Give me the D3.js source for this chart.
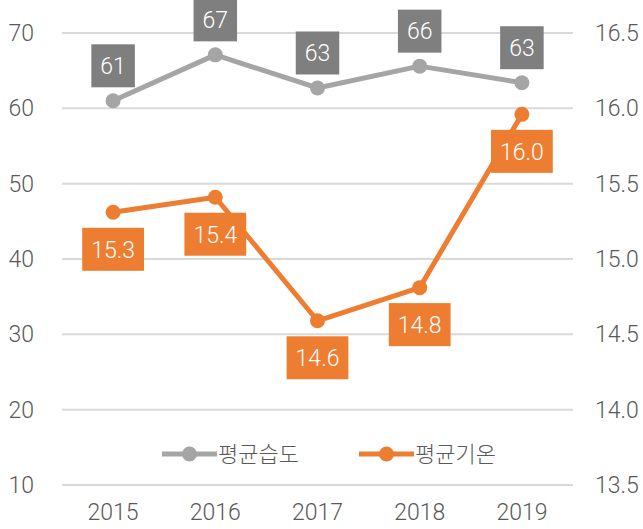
<!DOCTYPE html>
<html>
<head>
<meta charset="utf-8">
<script src="https://cdn.jsdelivr.net/npm/d3@7"></script>
<style>
  body { margin: 0; background: #fff; }
  text { font-family: Roboto, "Noto Sans CJK KR", sans-serif; font-weight: 300; }
</style>
</head>
<body>
<div id="chart"></div>
<script>
// datos del gráfico
var anios = ["2015", "2016", "2017", "2018", "2019"];
var humedad = [61.0, 67.1, 62.7, 65.6, 63.4];        // 평균습도
var temperatura = [15.31, 15.41, 14.59, 14.81, 15.96]; // 평균기온
var ticksIzq = [10, 20, 30, 40, 50, 60, 70];
var ticksDer = [13.5, 14.0, 14.5, 15.0, 15.5, 16.0, 16.5];
var series = ["평균습도", "평균기온"];

var width = 643, height = 529;
var margin = {top: 33, right: 70, bottom: 44, left: 62};

var svg = d3.select("#chart").append("svg")
  .attr("width", width)
  .attr("height", height);

var x = d3.scalePoint()
  .domain(anios)
  .range([margin.left, width - margin.right])
  .padding(0.5);

var yIzq = d3.scaleLinear().domain([10, 70]).range([height - margin.bottom, margin.top]);
var yDer = d3.scaleLinear().domain([13.5, 16.5]).range([height - margin.bottom, margin.top]);

var colores = {gris: "#a5a5a5", naranja: "#ed7d31", caja: "#7f7f7f", texto: "#595959"};

// líneas de la cuadrícula
svg.append("g")
  .selectAll("line")
  .data(ticksIzq)
  .enter().append("line")
  .attr("x1", margin.left)
  .attr("x2", width - margin.right)
  .attr("y1", function(d) { return yIzq(d); })
  .attr("y2", function(d) { return yIzq(d); })
  .attr("stroke", "#d9d9d9")
  .attr("stroke-width", 2);

// eje izquierdo
svg.append("g")
  .selectAll("text")
  .data(ticksIzq)
  .enter().append("text")
  .attr("x", 34)
  .attr("y", function(d) { return yIzq(d); })
  .attr("dy", "0.35em")
  .attr("text-anchor", "end")
  .attr("font-size", 23)
  .attr("fill", colores.texto)
  .text(function(d) { return d; });

// eje derecho
svg.append("g")
  .selectAll("text")
  .data(ticksDer)
  .enter().append("text")
  .attr("x", 595)
  .attr("y", function(d) { return yDer(d); })
  .attr("dy", "0.35em")
  .attr("text-anchor", "start")
  .attr("font-size", 23)
  .attr("fill", colores.texto)
  .text(function(d) { return d.toFixed(1); });

// eje x
svg.append("g")
  .selectAll("text")
  .data(anios)
  .enter().append("text")
  .attr("x", function(d) { return x(d); })
  .attr("y", 520)
  .attr("text-anchor", "middle")
  .attr("font-size", 23)
  .attr("fill", colores.texto)
  .text(function(d) { return d; });

function serie(valores, escala, color, grosor) {
  var g = svg.append("g");
  var linea = d3.line()
    .x(function(d, i) { return x(anios[i]); })
    .y(function(d) { return escala(d); });
  g.append("path")
    .datum(valores)
    .attr("d", linea)
    .attr("fill", "none")
    .attr("stroke", color)
    .attr("stroke-width", grosor)
    .attr("stroke-linejoin", "round");
  g.selectAll("circle")
    .data(valores)
    .enter().append("circle")
    .attr("cx", function(d, i) { return x(anios[i]); })
    .attr("cy", function(d) { return escala(d); })
    .attr("r", 7.5)
    .attr("fill", color);
}

serie(humedad, yIzq, colores.gris, 5);
serie(temperatura, yDer, colores.naranja, 5);

// etiquetas con caja
function etiquetas(valores, escala, color, desplaz, formato) {
  var g = svg.append("g").selectAll("g")
    .data(valores)
    .enter().append("g")
    .attr("transform", function(d, i) {
      return "translate(" + x(anios[i]) + "," + (escala(d) + desplaz) + ")";
    });
  var rects = g.append("rect").attr("fill", color);
  var textos = g.append("text")
    .attr("text-anchor", "middle")
    .attr("dy", "0.36em")
    .attr("font-size", 23)
    .attr("fill", "#fff")
    .text(formato);
  textos.each(function(d, i) {
    var w = this.getComputedTextLength() + 18;
    d3.select(rects.nodes()[i])
      .attr("x", -w / 2).attr("y", -21.5)
      .attr("width", w).attr("height", 43);
  });
}

etiquetas(humedad, yIzq, colores.caja, -35, function(d) { return Math.round(d); });
etiquetas(temperatura, yDer, colores.naranja, 37, function(d) { return d.toFixed(1); });

// leyenda
var leyenda = svg.append("g")
  .selectAll("g")
  .data(series)
  .enter().append("g")
  .attr("transform", function(d, i) { return "translate(" + (162 + i * 197) + ",454)"; });

leyenda.append("line")
  .attr("x1", 0).attr("x2", 55)
  .attr("stroke", function(d, i) { return i == 0 ? colores.gris : colores.naranja; })
  .attr("stroke-width", 5);

leyenda.append("circle")
  .attr("cx", 27.5)
  .attr("r", 7.5)
  .attr("fill", function(d, i) { return i == 0 ? colores.gris : colores.naranja; });

leyenda.append("text")
  .attr("x", 56)
  .attr("dy", "0.36em")
  .attr("font-size", 22)
  .attr("fill", colores.texto)
  .style("font-family", "'Noto Sans CJK KR', sans-serif")
  .text(function(d) { return d; });
</script>
</body>
</html>
